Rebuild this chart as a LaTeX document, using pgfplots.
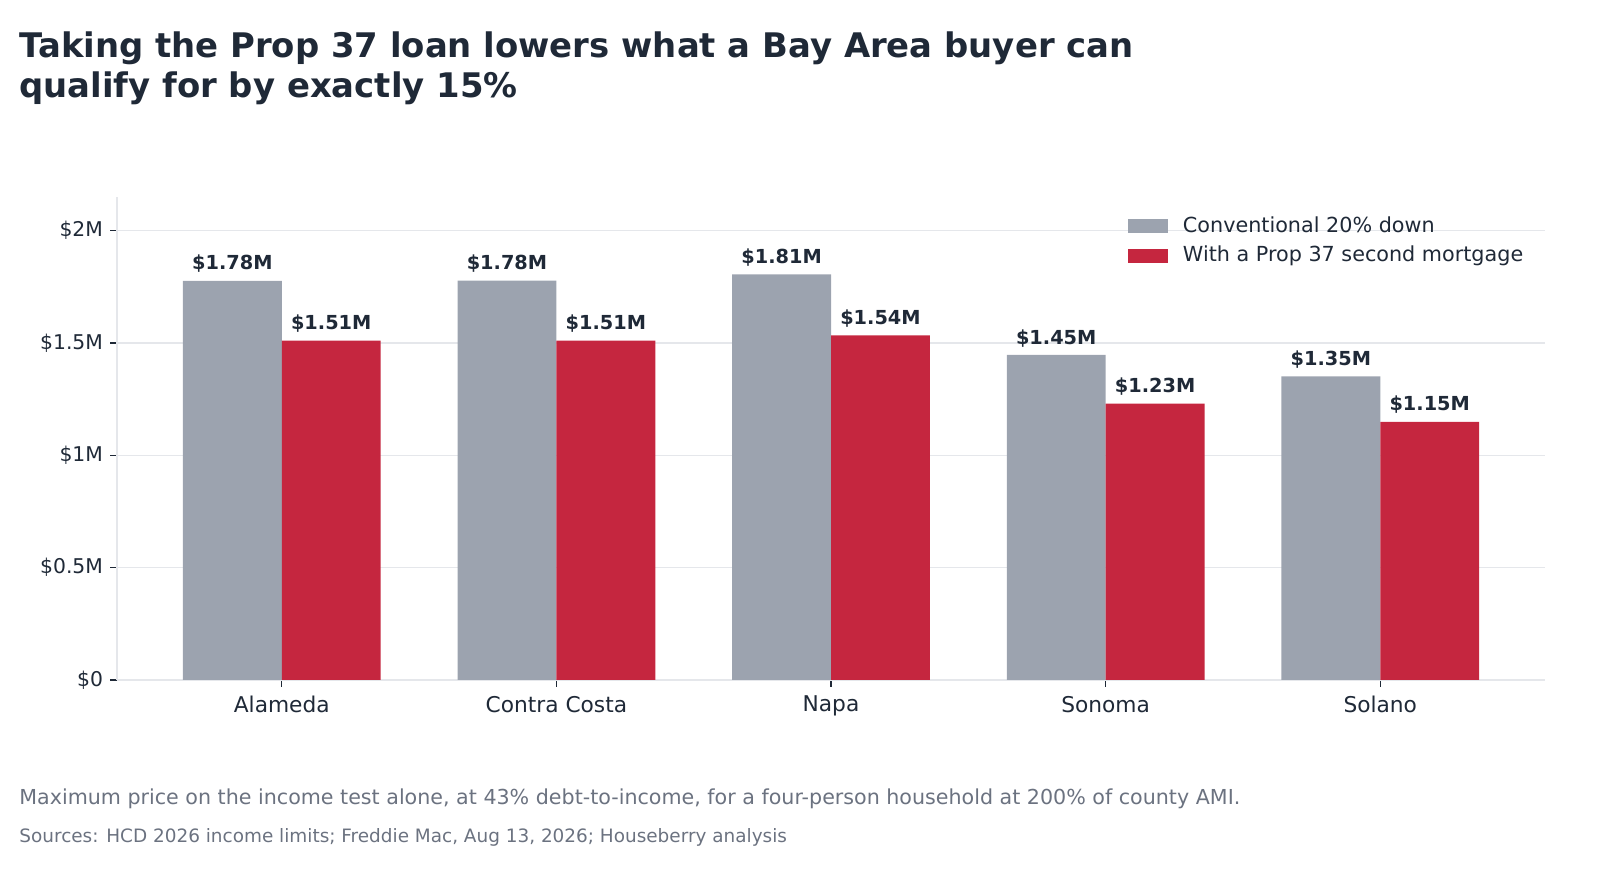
\documentclass[border=0pt]{standalone}
\usepackage{pgfplots}
\usepackage{pgfplotstable}
\pgfplotsset{compat=1.18}
\usepackage{fontspec}
\setmainfont{DejaVu Sans}

\definecolor{ink}{HTML}{1F2937}
\definecolor{muted}{HTML}{6B7280}
\definecolor{conv}{HTML}{9CA3AF}
\definecolor{prop}{HTML}{C5263F}
\definecolor{rule}{HTML}{E5E7EB}

\pgfplotstableread{
x  y      lab
0  1.777  {\$1.78M}
1  1.778  {\$1.78M}
2  1.805  {\$1.81M}
3  1.447  {\$1.45M}
4  1.352  {\$1.35M}
}\conventional
\pgfplotstableread{
x  y      lab
0  1.511  {\$1.51M}
1  1.511  {\$1.51M}
2  1.534  {\$1.54M}
3  1.230  {\$1.23M}
4  1.149  {\$1.15M}
}\propthirtyseven

\begin{document}
\begin{tikzpicture}[x=1bp,y=1bp]
\node[anchor=north west,align=left,font=\fontsize{17}{20.5}\selectfont\bfseries,text=ink,inner sep=0pt]
  at (9.5,424.5) {Taking the Prop 37 loan lowers what a Bay Area buyer can\\qualify for by exactly 15\%};
\node[anchor=base west,font=\fontsize{10.35}{12}\selectfont,text=muted,inner sep=0pt]
  at (9.5,37.5) {Maximum price on the income test alone, at 43\% debt-to-income, for a four-person household at 200\% of county AMI.};
\node[anchor=base west,font=\fontsize{9.25}{11}\selectfont,text=muted,inner sep=0pt]
  at (9.5,18.5) {Sources: HCD 2026 income limits; Freddie Mac, Aug 13, 2026; Houseberry analysis};
\begin{axis}[
  at={(58.5bp,100bp)}, anchor=south west,
  scale only axis,
  width=714bp, height=241.5bp,
  xmin=-0.6, xmax=4.6,
  ymin=0, ymax=2.15,
  ybar, bar width=0.36,
  axis x line*=bottom, axis y line*=left,
  axis line style={rule, line width=0.6pt},
  xtick={0,1,2,3,4},
  xticklabels={Alameda,Contra Costa,Napa,Sonoma,Solano},
  ytick={0,0.5,1,1.5,2},
  yticklabels={\$0,\$0.5M,\$1M,\$1.5M,\$2M},
  tick align=outside,
  major tick length=3.5bp,
  tick style={ink, line width=0.6pt},
  x tick label style={font=\fontsize{10.9}{12}\selectfont, text=ink, yshift=-1bp},
  y tick label style={font=\fontsize{10.2}{12}\selectfont, text=ink},
  ymajorgrids=true,
  grid style={rule, line width=0.6pt},
  legend style={draw=none, fill=none, at={(rel axis cs:0.992,0.977)}, anchor=north east,
    font=\fontsize{10.4}{12}\selectfont, text=ink, row sep=1.5bp},
  legend cell align=left,
  legend image code/.code={\fill[#1] (0bp,-3.5bp) rectangle (20bp,3.5bp); \path (25.5bp,0bp);},
  nodes near coords,
  point meta=explicit symbolic,
  every node near coord/.append style={font=\fontsize{9.7}{11}\selectfont\bfseries, text=ink, anchor=south, yshift=0.5bp},
]
\addplot[bar shift=-0.18, fill=conv, draw=none]
  table[x=x, y=y, meta=lab] {\conventional};
\addlegendentry{Conventional 20\% down}
\addplot[bar shift=0.18, fill=prop, draw=none]
  table[x=x, y=y, meta=lab] {\propthirtyseven};
\addlegendentry{With a Prop 37 second mortgage}
\end{axis}
\pgfresetboundingbox
\path[use as bounding box] (0,0) rectangle (800,440);
\end{tikzpicture}
\end{document}
